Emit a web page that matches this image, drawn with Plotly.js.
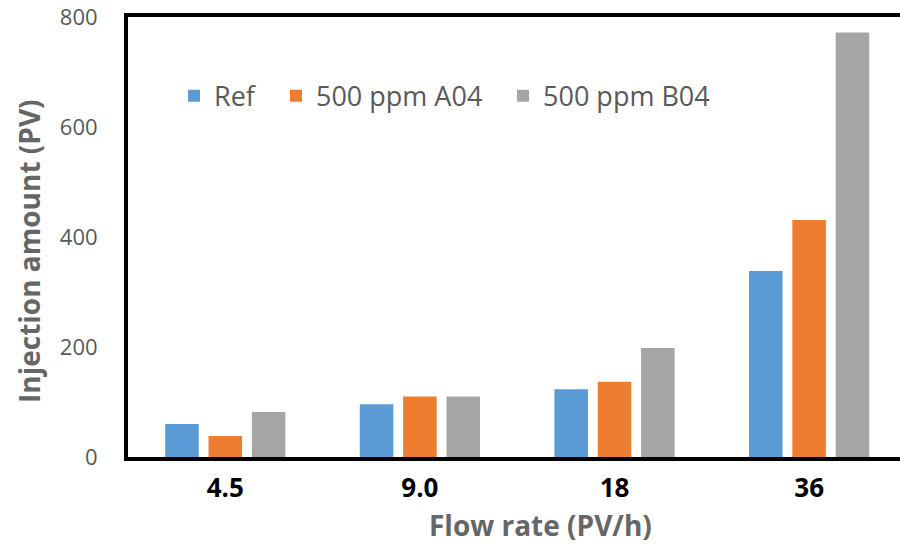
<!DOCTYPE html>
<html>
<head>
<meta charset="utf-8">
<script src="https://cdn.plot.ly/plotly-3.0.1.min.js"></script>
<style>
  html, body { margin: 0; padding: 0; background: #fff; }
  #chart { width: 900px; height: 544px; }
</style>
</head>
<body>
<div id="chart"></div>
<script>
// Flow rate categories (PV/h)
const categories = ['4.5', '9.0', '18', '36'];
// Injection amount (PV) per series
const refValues = [60, 96, 123, 338];
const a04Values = [38, 110, 137, 431];
const b04Values = [82, 110, 198, 772];
const seriesNames = ['Ref', '500 ppm A04', '500 ppm B04'];
const yTicks = [0, 200, 400, 600, 800];

const colors = ['#5B9BD5', '#ED7D31', '#A5A5A5'];
const values = [refValues, a04Values, b04Values];
const legendIds = ['legend', 'legend2', 'legend3'];
// left edge of each legend entry, in paper units of the plot width
const legendX = [0.0596, 0.1917, 0.4858];

const traces = values.map((v, i) => ({
  type: 'bar',
  x: categories,
  y: v,
  name: seriesNames[i],
  legend: legendIds[i],
  marker: { color: colors[i] },
  hoverinfo: 'x+y+name'
}));

const fam = '"Open Sans", "Noto Sans", sans-serif';
const tickFont = { family: fam, size: 22, color: '#595959' };
const titleFont = { family: fam, size: 28, color: '#666666', weight: 'bold' };

const layout = {
  width: 900,
  height: 544,
  margin: { l: 128, r: 0, t: 17, b: 87 },
  paper_bgcolor: '#ffffff',
  plot_bgcolor: '#ffffff',
  barmode: 'group',
  bargap: 0.332,
  bargroupgap: 0.226,
  showlegend: true,
  xaxis: {
    type: 'category',
    range: [-0.5, 3.467],
    showline: true,
    linecolor: '#000000',
    linewidth: 4,
    mirror: true,
    showgrid: false,
    zeroline: false,
    ticks: '',
    ticklabelstandoff: 5,
    tickfont: { family: fam, size: 26, color: '#000000', weight: 'bold' },
    fixedrange: true
  },
  yaxis: {
    range: [0, 800],
    tickvals: yTicks,
    ticktext: yTicks.map(String),
    showline: true,
    linecolor: '#000000',
    linewidth: 4,
    showgrid: false,
    zeroline: false,
    ticks: '',
    ticklabelstandoff: 22,
    tickfont: tickFont,
    fixedrange: true
  },
  annotations: [
    {
      text: 'Flow rate (PV/h)',
      xref: 'paper', yref: 'paper',
      x: (540 - 128) / 772, y: 0,
      xanchor: 'center', yanchor: 'middle',
      yshift: -68,
      showarrow: false,
      font: titleFont
    },
    {
      text: 'Injection amount (PV)',
      xref: 'paper', yref: 'paper',
      x: 0, y: (457 - 251) / 440,
      xanchor: 'center', yanchor: 'middle',
      xshift: -99,
      textangle: -90,
      showarrow: false,
      font: titleFont
    }
  ]
};

legendIds.forEach((id, i) => {
  layout[id] = {
    orientation: 'h',
    x: legendX[i], y: 0.82,
    xanchor: 'left', yanchor: 'middle',
    bgcolor: 'rgba(0,0,0,0)',
    font: { family: fam, size: 27, color: '#595959' }
  };
});

Plotly.newPlot('chart', traces, layout, { displayModeBar: false, staticPlot: true });
</script>
</body>
</html>
